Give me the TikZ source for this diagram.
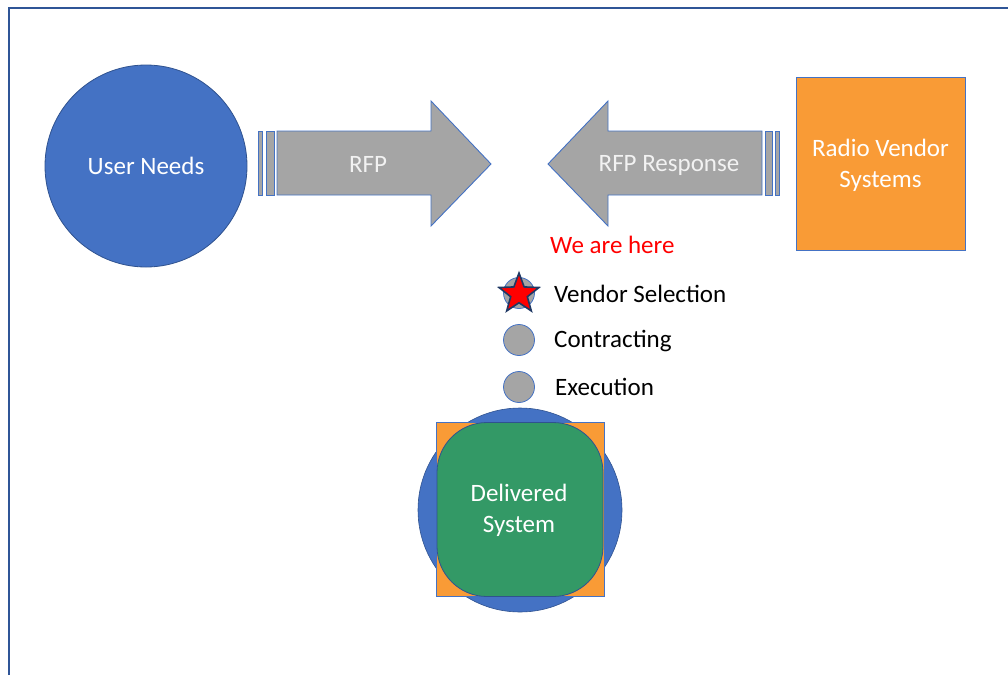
\documentclass[tikz,border=0pt]{standalone}
\usepackage{fontspec}
\setmainfont{Carlito}
\usetikzlibrary{shapes.geometric}
\definecolor{frameblue}{HTML}{2F5597}
\definecolor{mblue}{HTML}{4472C4}
\definecolor{dblue}{HTML}{2F528F}
\definecolor{mgray}{HTML}{A5A5A5}
\definecolor{morange}{HTML}{F99B36}
\definecolor{mgreen}{HTML}{339966}
\definecolor{navy}{HTML}{1F3864}
\definecolor{ltext}{HTML}{F2F2F2}
\tikzset{
  lbl/.style={font=\fontsize{25}{31}\selectfont, text=white, align=center},
  arrowshape/.style={fill=mgray, draw=mblue, line width=0.9pt},
  dotcirc/.style={circle, fill=mgray, draw=mblue, line width=0.8pt, minimum size=31pt, inner sep=0pt},
  steplbl/.style={font=\fontsize{25}{31}\selectfont, text=black, anchor=west, inner sep=0pt},
}
\begin{document}
\begin{tikzpicture}[x=1pt,y=-1pt]
\useasboundingbox (0,0) rectangle (1008,675);
% frame
\draw[frameblue, line width=2pt] (9,675) -- (9,8) -- (1008,8);

% User Needs
\node[circle, fill=mblue, draw=dblue, line width=0.8pt, minimum size=202pt, inner sep=0pt] (user) at (146,166) {};
\node[lbl] (usert) at (user.center) {User Needs};

% RFP arrow
\draw[arrowshape] (258,131) rectangle (262,195);
\draw[arrowshape] (266,131) rectangle (274,195);
\draw[arrowshape] (277,131) -- (431,131) -- (431,101) -- (491,164) -- (431,226) -- (431,195) -- (277,195) -- cycle;
\node[lbl, text=ltext] (rfp) at (368,164) {RFP};

% RFP Response arrow
\draw[arrowshape] (775,131) rectangle (779,195);
\draw[arrowshape] (765,131) rectangle (772,195);
\draw[arrowshape] (762,131) -- (608,131) -- (608,101) -- (548,164) -- (608,226) -- (608,195) -- (762,195) -- cycle;
\node[lbl, text=ltext] (rfpr) at (669,165) {RFP Response};

% Radio Vendor Systems
\node[rectangle, fill=morange, draw=mblue, line width=0.8pt, minimum width=169pt, minimum height=173pt, inner sep=0pt] (vendor) at (880.5,164) {};
\node[lbl] (vendort) at (880.5,165) {Radio Vendor\\Systems};

% We are here
\node[font=\fontsize{25}{31}\selectfont, text=red, anchor=west, inner sep=0pt] (here) at (550,245) {We are here};

% steps
\node[dotcirc] (s1) at (519,293) {};
\node[star, star points=5, star point ratio=2.4, fill=red, draw=navy, line width=1.6pt, minimum size=42pt, inner sep=0pt] (star) at (519,294) {};
\node[dotcirc] (s2) at (519,340) {};
\node[dotcirc] (s3) at (519,387) {};
\node[steplbl] (t1) at (554,294) {Vendor Selection};
\node[steplbl] (t2) at (554,341) {Contracting};
\node[steplbl] (t3) at (555,387) {Execution};

% Delivered System
\node[circle, fill=mblue, draw=dblue, line width=0.6pt, minimum size=204pt, inner sep=0pt] (dcirc) at (520,510) {};
\node[rectangle, fill=morange, draw=mblue, line width=0.8pt, minimum width=168pt, minimum height=174pt, inner sep=0pt] (dsq) at (520,509) {};
\node[rectangle, rounded corners=50pt, fill=mgreen, draw=dblue, line width=0.8pt, minimum width=166pt, minimum height=174pt, inner sep=0pt] (dgr) at (520,509.5) {};
\node[lbl] (dtext) at (519,510) {Delivered\\System};
\end{tikzpicture}
\end{document}
